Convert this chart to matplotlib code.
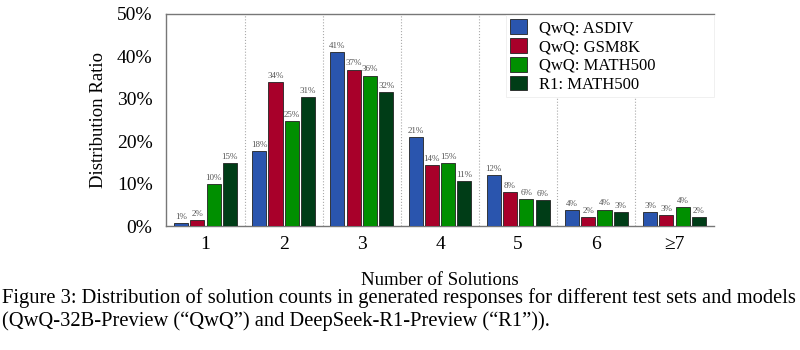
import matplotlib.pyplot as plt
import numpy as np

plt.rcParams['font.family'] = ['Liberation Serif', 'DejaVu Serif']

categories = ['1', '2', '3', '4', '5', '6', '≥7']
series = ['QwQ: ASDIV', 'QwQ: GSM8K', 'QwQ: MATH500', 'R1: MATH500']
asdiv = [0.7, 17.7, 41.0, 21.0, 12.1, 3.8, 3.4]
gsm8k = [1.5, 34.0, 36.9, 14.4, 8.0, 2.1, 2.7]
math500 = [10.0, 24.7, 35.5, 14.8, 6.4, 3.9, 4.4]
r1_math500 = [14.9, 30.5, 31.7, 10.7, 6.1, 3.4, 2.1]
labels = [
    ['1%', '18%', '41%', '21%', '12%', '4%', '3%'],
    ['2%', '34%', '37%', '14%', '8%', '2%', '3%'],
    ['10%', '25%', '36%', '15%', '6%', '4%', '4%'],
    ['15%', '31%', '32%', '11%', '6%', '3%', '2%'],
]
colors = ['#2A55AE', '#A8002A', '#008F00', '#003D17']

fig = plt.figure(figsize=(8, 3.5), dpi=100)
ax = fig.add_axes([0.208, 0.354, 0.684, 0.606])

x = np.arange(len(categories))
step = 0.208
width = 0.18
for i, vals in enumerate([asdiv, gsm8k, math500, r1_math500]):
    pos = x + (i - 1.5) * step
    ax.bar(pos, vals, width=width, color=colors[i], edgecolor='#222222',
           linewidth=0.6, label=series[i], zorder=3)
    for p, v, t in zip(pos, vals, labels[i]):
        ax.text(p, v + 0.5, t, ha='center', va='bottom', fontsize=6.5,
                color='#555555', zorder=4)

# dotted separators between groups
for b in np.arange(0.5, len(categories) - 0.5, 1):
    ax.axvline(b, color='#aaaaaa', linestyle=':', linewidth=0.8, zorder=1)

ax.set_xlim(-0.5, len(categories) - 0.5)
ax.set_ylim(0, 50)
ax.set_xticks(x)
ax.set_xticklabels(categories, fontsize=14)
ax.set_yticks(range(0, 51, 10))
ax.set_yticklabels([f'{v}%' for v in range(0, 51, 10)], fontsize=14)
ax.tick_params(length=0, pad=10)
ax.tick_params(axis='x', pad=7)
ax.set_ylabel('Distribution Ratio', fontsize=13.5, labelpad=7)
ax.set_xlabel('Number of Solutions', fontsize=13.5, labelpad=14)

for s in ['top', 'bottom', 'left']:
    ax.spines[s].set_color('#777777')
    ax.spines[s].set_linewidth(1.0)
ax.spines['right'].set_visible(False)

leg = ax.legend(loc='upper left', bbox_to_anchor=(0.621, 0.642, 0.379, 0.354),
                mode='expand', fontsize=12, frameon=True, fancybox=False,
                framealpha=1.0, edgecolor='#eeeeee', handlelength=1.0,
                handleheight=1.0, handletextpad=0.7, labelspacing=0.1,
                borderpad=0.25, borderaxespad=0.0)
leg.get_frame().set_linewidth(0.6)
leg.set_zorder(5)

fig.text(0.003, 0.149, 'Figure 3: Distribution of solution counts in generated responses for different test sets and models',
         fontsize=14.8, ha='left', va='center')
fig.text(0.003, 0.083, '(QwQ-32B-Preview (\u201cQwQ\u201d) and DeepSeek-R1-Preview (\u201cR1\u201d)).',
         fontsize=14.8, ha='left', va='center')

fig.savefig('out.png', dpi=100)
